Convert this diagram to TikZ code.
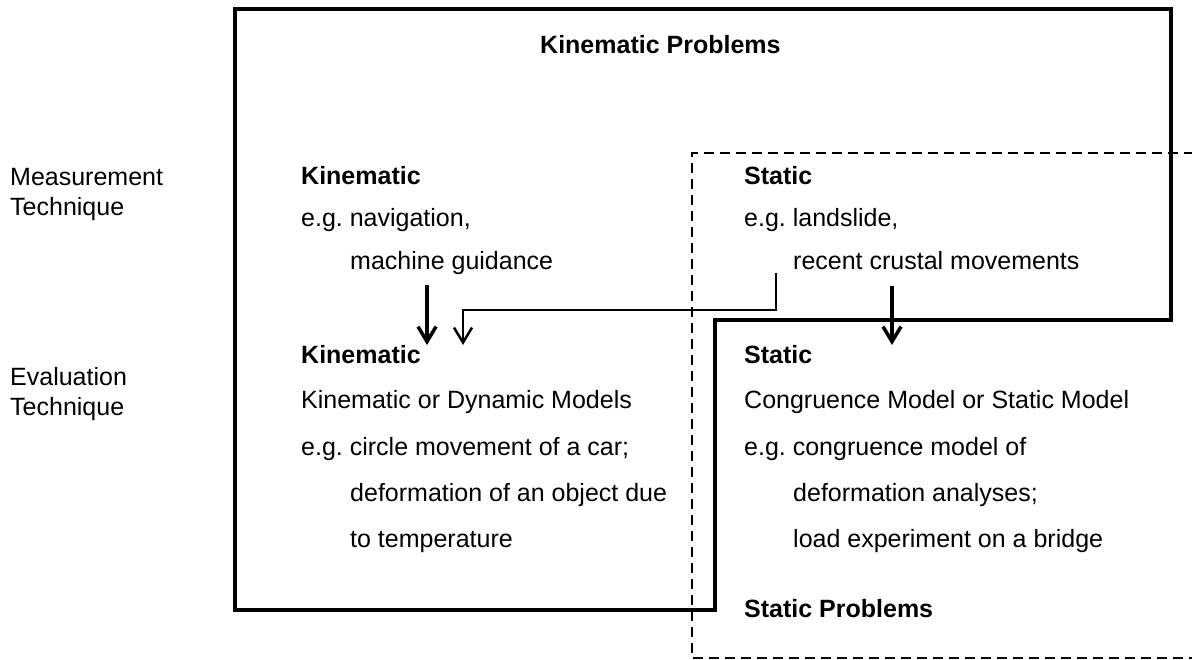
\documentclass[tikz,border=0pt]{standalone}
\usepackage{fontspec}
\setmainfont{Liberation Sans}
\usetikzlibrary{arrows.meta}
\frenchspacing
\begin{document}
\begin{tikzpicture}[x=1pt,y=-1pt,
  txt/.style={anchor=base west, inner sep=0pt, font=\fontsize{25}{30}\selectfont},
  hd/.style={anchor=base west, inner sep=0pt, font=\fontsize{25}{30}\selectfont\bfseries},
  frame/.style={line width=3.5pt, line join=miter},
  dashframe/.style={line width=2.8pt, dash pattern=on 10pt off 6pt},
  bigarrow/.style={line width=3.5pt, -{Straight Barb[length=15pt,width=18pt]}},
  thinarrow/.style={line width=2.5pt, line join=miter, -{Straight Barb[length=15pt,width=18pt]}}]
\useasboundingbox (0,0) rectangle (1192,660);

% static problems region (dashed, open towards the right)
\begin{scope}
  \clip (0,0) rectangle (1192,660);
  \draw[dashframe] (1210,153) -| (692,658) -- (1210,658);
\end{scope}

% kinematic problems region
\draw[frame] (235,9) -- (1171,9) -- (1171,320) -- (715,320) -- (715,610) -- (235,610) -- cycle;

% region titles
\node[hd] (kprob) at (540,54) {Kinematic Problems};
\node[hd] (sprob) at (744,617) {Static Problems};

% row labels
\node[txt] (meas1) at (10,186) {Measurement};
\node[txt] (meas2) at (10,216) {Technique};
\node[txt] (eval1) at (10,385) {Evaluation};
\node[txt] (eval2) at (10,415) {Technique};

% measurement: kinematic
\node[hd]  (mk)  at (301,185) {Kinematic};
\node[txt] (mk1) at (301,227) {e.g. navigation,};
\node[txt] (mk2) at (350,270) {machine guidance};

% measurement: static
\node[hd]  (ms)  at (744,185) {Static};
\node[txt] (ms1) at (744,227) {e.g. landslide,};
\node[txt] (ms2) at (793,270) {recent crustal movements};

% evaluation: kinematic
\node[hd]  (ek)  at (301,363) {Kinematic};
\node[txt] (ek1) at (301,409) {Kinematic or Dynamic Models};
\node[txt] (ek2) at (301,455) {e.g. circle movement of a car;};
\node[txt] (ek3) at (350,501) {deformation of an object due};
\node[txt] (ek4) at (350,547) {to temperature};

% evaluation: static
\node[hd]  (es)  at (744,363) {Static};
\node[txt] (es1) at (744,409) {Congruence Model or Static Model};
\node[txt] (es2) at (744,455) {e.g. congruence model of};
\node[txt] (es3) at (793,501) {deformation analyses;};
\node[txt] (es4) at (793,547) {load experiment on a bridge};

% arrow end points
\coordinate (a1s) at (427,285);
\coordinate (a1e) at (427,345);
\coordinate (a2s) at (776,273);
\coordinate (a2e) at (463,345);
\coordinate (a3s) at (892,286);
\coordinate (a3e) at (892,345);

\draw[bigarrow] (a1s) -- (a1e);
\draw[thinarrow] (a2s) |- (463,310) -- (a2e);
\draw[bigarrow] (a3s) -- (a3e);
\end{tikzpicture}
\end{document}
